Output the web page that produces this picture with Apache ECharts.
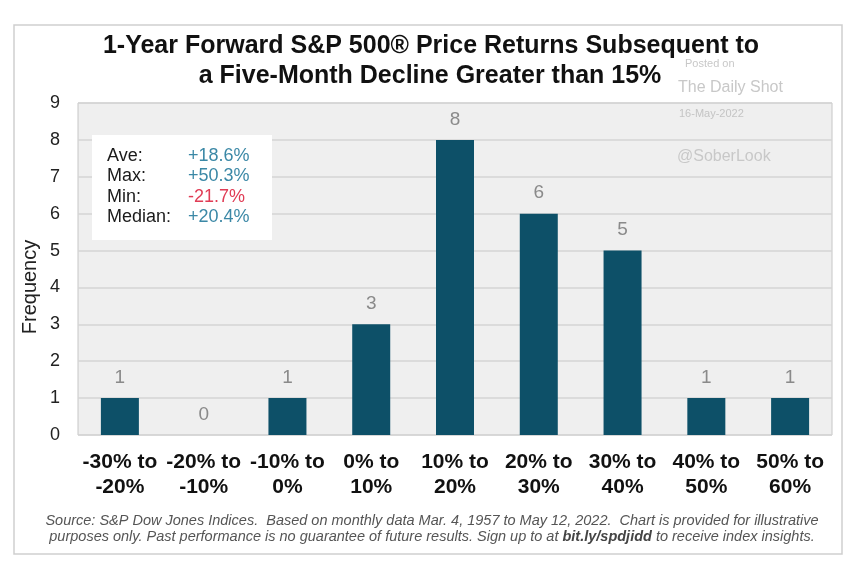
<!DOCTYPE html>
<html>
<head>
<meta charset="utf-8">
<script src="https://cdn.jsdelivr.net/npm/echarts@6/dist/echarts.min.js"></script>
<style>
html,body{margin:0;padding:0;background:#fff;}
#chart{width:844px;height:566px;}
</style>
</head>
<body>
<div id="chart"></div>
<script>
const categories = ['-30% to\n-20%', '-20% to\n-10%', '-10% to\n0%', '0% to\n10%', '10% to\n20%', '20% to\n30%', '30% to\n40%', '40% to\n50%', '50% to\n60%'];
const frequency = [1, 0, 1, 3, 8, 6, 5, 1, 1];
const statLabels = ['Ave:', 'Max:', 'Min:', 'Median:'];
const statValues = ['+18.6%', '+50.3%', '-21.7%', '+20.4%'];
const titleLines = ['1-Year Forward S&P 500\u00AE Price Returns Subsequent to', 'a Five-Month Decline Greater than 15%'];
const footnoteLines = [
  'Source: S&P Dow Jones Indices.  Based on monthly data Mar. 4, 1957 to May 12, 2022.  Chart is provided for illustrative',
  'purposes only. Past performance is no guarantee of future results. Sign up to at {b|bit.ly/spdjidd} to receive index insights.'
];

const FONT = "'Liberation Sans', Arial, sans-serif";
const chart = echarts.init(document.getElementById('chart'));

const graphics = [
  { type: 'rect', shape: { x: 14, y: 25, width: 828, height: 529 }, style: { fill: 'none', stroke: '#cfcfcf', lineWidth: 1.5 }, z: 0, silent: true },
  { type: 'text', x: 431, y: 46, style: { text: titleLines[0], font: 'bold 25px ' + FONT, fill: '#111', textAlign: 'center', textVerticalAlign: 'middle' }, z: 5 },
  { type: 'text', x: 430, y: 76, style: { text: titleLines[1], font: 'bold 25px ' + FONT, fill: '#111', textAlign: 'center', textVerticalAlign: 'middle' }, z: 5 },
  // y axis title
  { type: 'text', x: 30, y: 287, rotation: Math.PI / 2, style: { text: 'Frequency', font: '20px ' + FONT, fill: '#222', textAlign: 'center', textVerticalAlign: 'middle' }, z: 5 },
  // watermark
  { type: 'text', x: 685, y: 64, style: { text: 'Posted on', font: '11px ' + FONT, fill: '#c8c8c8', textAlign: 'left', textVerticalAlign: 'middle' }, z: 1 },
  { type: 'text', x: 678, y: 88, style: { text: 'The Daily Shot', font: '16px ' + FONT, fill: '#c8c8c8', textAlign: 'left', textVerticalAlign: 'middle' }, z: 1 },
  { type: 'text', x: 679, y: 114, style: { text: '16-May-2022', font: '11px ' + FONT, fill: '#c4c4c4', textAlign: 'left', textVerticalAlign: 'middle' }, z: 1 },
  { type: 'text', x: 677, y: 157, style: { text: '@SoberLook', font: '16px ' + FONT, fill: '#c8c8c8', textAlign: 'left', textVerticalAlign: 'middle' }, z: 1 },
  // stats box
  { type: 'rect', shape: { x: 92, y: 135, width: 180, height: 105 }, style: { fill: '#ffffff' }, z: 10 },
];
statLabels.forEach((s, i) => {
  graphics.push({ type: 'text', x: 107, y: 156 + i * 20.5, style: { text: s, font: '18px ' + FONT, fill: '#1a1a1a', textAlign: 'left', textVerticalAlign: 'middle' }, z: 11 });
  graphics.push({ type: 'text', x: 188, y: 156 + i * 20.5, style: { text: statValues[i], font: '18px ' + FONT, fill: statValues[i].startsWith('-') ? '#e03c55' : '#3b88a6', textAlign: 'left', textVerticalAlign: 'middle' }, z: 11 });
});
footnoteLines.forEach((s, i) => {
  graphics.push({ type: 'text', x: 432, y: 521 + i * 16, style: { text: s, font: 'italic 14.5px ' + FONT, fill: '#555', textAlign: 'center', textVerticalAlign: 'middle', rich: { b: { fontWeight: 'bold', fontStyle: 'italic', fontSize: 14.5, fontFamily: FONT, fill: '#444' } } }, z: 5 });
});

chart.setOption({
  animation: false,
  grid: { left: 78, right: 12, top: 103, bottom: 131, show: true, backgroundColor: '#efefef', borderColor: '#c6c6c6', borderWidth: 1 },
  xAxis: {
    type: 'category',
    data: categories,
    axisTick: { show: false },
    axisLine: { show: false },
    axisLabel: { color: '#111', fontSize: 21, fontWeight: 'bold', fontFamily: FONT, lineHeight: 25, margin: 15, interval: 0 }
  },
  yAxis: {
    type: 'value', min: 0, max: 9, interval: 1,
    axisLine: { show: false }, axisTick: { show: false },
    axisLabel: { fontSize: 18, color: '#222', fontFamily: FONT, margin: 18 },
    splitLine: { lineStyle: { color: '#d5d5d5', width: 1.5 } }
  },
  series: [{
    type: 'bar',
    data: frequency,
    barWidth: 38,
    itemStyle: { color: '#0d5068' },
    label: { show: true, position: 'top', distance: 11, color: '#8a8a8a', fontSize: 19, fontFamily: FONT }
  }],
  graphic: graphics
});
</script>
</body>
</html>
